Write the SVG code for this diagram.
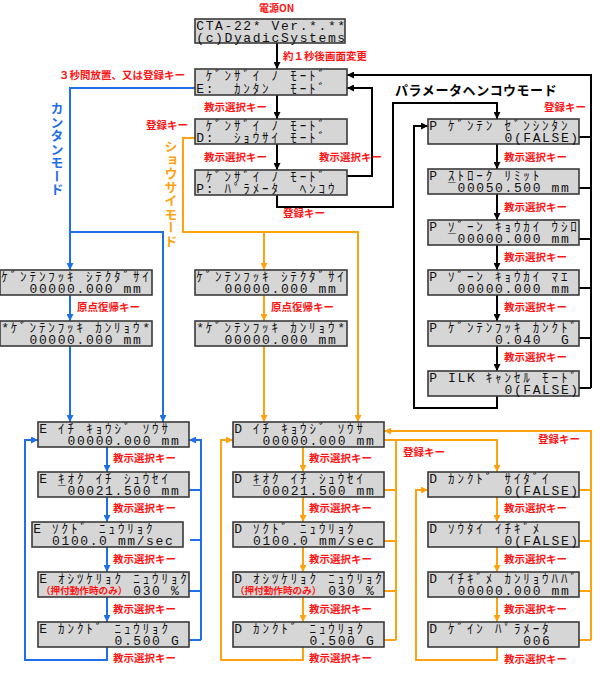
<svg xmlns="http://www.w3.org/2000/svg" width="600" height="673" viewBox="0 0 600 673">
<style>
.box{fill:#d6d6d6;stroke:#3a3a3a;stroke-width:1.6}
.lcd{font-family:"Liberation Mono","Noto Sans CJK JP",monospace;font-size:13px;fill:#111;white-space:pre}
.lbl{font-family:"Noto Sans CJK JP",sans-serif;font-size:10.5px;font-weight:bold;fill:#ff1414}
.sub{font-family:"Noto Sans CJK JP",sans-serif;font-size:9.6px;font-weight:bold;fill:#ff1414}
.vt{font-family:"Noto Sans CJK JP",sans-serif;font-size:13px;font-weight:bold;writing-mode:vertical-rl;letter-spacing:0.5px}
.k{fill:none;stroke:#000;stroke-width:2}
.b{fill:none;stroke:#1f6fe8;stroke-width:2}
.o{fill:none;stroke:#ffa20f;stroke-width:2}
</style>
<defs>
<marker id="ak" viewBox="0 0 8 8" refX="8" refY="4" markerWidth="7" markerHeight="7" markerUnits="userSpaceOnUse" orient="auto"><path d="M0,0 L8,4 L0,8 z" fill="#000"/></marker>
<marker id="ab" viewBox="0 0 8 8" refX="8" refY="4" markerWidth="7" markerHeight="7" markerUnits="userSpaceOnUse" orient="auto"><path d="M0,0 L8,4 L0,8 z" fill="#1f6fe8"/></marker>
<marker id="ao" viewBox="0 0 8 8" refX="8" refY="4" markerWidth="7" markerHeight="7" markerUnits="userSpaceOnUse" orient="auto"><path d="M0,0 L8,4 L0,8 z" fill="#ffa20f"/></marker>
</defs>
<rect width="600" height="673" fill="#fff"/>

<g id="connectors">
<g class="k">
<path d="M277,43 V69" marker-end="url(#ak)"/>
<path d="M277,95 V119" marker-end="url(#ak)"/>
<path d="M277,144 V170" marker-end="url(#ak)"/>
<path d="M347,176 H372 V88 H347" marker-end="url(#ak)"/>
<path d="M277,195 V207 H393 V103 H497 V119" marker-end="url(#ak)"/>
<path d="M591,388 V75 H347" marker-end="url(#ak)"/>
<path d="M579,137 H591 M579,188 H591 M579,239 H591 M579,288 H591 M579,338 H591 M579,388 H591"/>
<path d="M497,144 V169" marker-end="url(#ak)"/>
<path d="M497,194 V220" marker-end="url(#ak)"/>
<path d="M497,245 V270" marker-end="url(#ak)"/>
<path d="M497,295 V321" marker-end="url(#ak)"/>
<path d="M497,346 V371" marker-end="url(#ak)"/>
<path d="M497,396 V408 H414 V126 H428" marker-end="url(#ak)"/>
</g>
<g class="b">
<path d="M195,88 H70 V270" marker-end="url(#ab)"/>
<path d="M70,232 H163 V422" marker-end="url(#ab)"/>
<path d="M70,295 V321" marker-end="url(#ab)"/>
<path d="M70,346 V422" marker-end="url(#ab)"/>
<path d="M107,447 V472" marker-end="url(#ab)"/>
<path d="M107,497 V522" marker-end="url(#ab)"/>
<path d="M107,547 V572" marker-end="url(#ab)"/>
<path d="M107,597 V622" marker-end="url(#ab)"/>
<path d="M107,647 V660 H25 V440 H38" marker-end="url(#ab)"/>
<path d="M201,640 V440 H189" marker-end="url(#ab)"/>
<path d="M189,490 H201 M190,540 H201 M189,591 H201 M189,640 H201"/>
</g>
<g class="o">
<path d="M195,138 H183 V232 H358 V422" marker-end="url(#ao)"/>
<path d="M264,232 V270" marker-end="url(#ao)"/>
<path d="M264,295 V321" marker-end="url(#ao)"/>
<path d="M264,346 V422" marker-end="url(#ao)"/>
<path d="M303,447 V472" marker-end="url(#ao)"/>
<path d="M303,497 V522" marker-end="url(#ao)"/>
<path d="M303,547 V572" marker-end="url(#ao)"/>
<path d="M303,597 V622" marker-end="url(#ao)"/>
<path d="M303,647 V660 H221 V440 H233" marker-end="url(#ao)"/>
<path d="M384,440 H497 V472" marker-end="url(#ao)"/>
<path d="M396,440 V640 M384,490 H396 M384,541 H396 M384,591 H396 M384,640 H396"/>
<path d="M591,640 V431 H384" marker-end="url(#ao)"/>
<path d="M579,490 H591 M579,541 H591 M579,591 H591 M579,640 H591"/>
<path d="M497,497 V522" marker-end="url(#ao)"/>
<path d="M497,547 V572" marker-end="url(#ao)"/>
<path d="M497,597 V622" marker-end="url(#ao)"/>
<path d="M497,647 V660 H416 V490 H428" marker-end="url(#ao)"/>
</g>
</g>

<g id="cta" transform="translate(195,19)"><rect class="box" width="150" height="24"/><text class="lcd" xml:space="preserve"><tspan x="1.3 10.7 20.1 29.5 38.9 48.3 57.7 67.1 76.5 85.9 95.3 104.7 114.1 123.5 132.9 142.3 151.7" y="10.5">CTA-22* Ver.*.**</tspan><tspan x="1.3 10.7 20.1 29.5 38.9 48.3 57.7 67.1 76.5 85.9 95.3 104.7 114.1 123.5 132.9 142.3 151.7" y="22.5">(c)DyadicSystems</tspan></text></g>

<g id="mode-e" transform="translate(195,69)"><rect class="box" width="152" height="26"/><text class="lcd" xml:space="preserve"><tspan x="1.3 10.7 20.1 29.5 38.9 48.3 57.7 67.1 76.5 85.9 95.3 104.7 114.1 123.5 132.9 142.3 151.7" y="11"> ｹﾞﾝｻﾞｲ ﾉ ﾓｰﾄﾞ</tspan><tspan x="1.3 10.7 20.1 29.5 38.9 48.3 57.7 67.1 76.5 85.9 95.3 104.7 114.1 123.5 132.9 142.3 151.7" y="23.5">E:  ｶﾝﾀﾝ  ﾓｰﾄﾞ</tspan></text></g>

<g id="mode-d" transform="translate(195,119)"><rect class="box" width="152" height="25"/><text class="lcd" xml:space="preserve"><tspan x="1.3 10.7 20.1 29.5 38.9 48.3 57.7 67.1 76.5 85.9 95.3 104.7 114.1 123.5 132.9 142.3 151.7" y="10.5"> ｹﾞﾝｻﾞｲ ﾉ ﾓｰﾄﾞ</tspan><tspan x="1.3 10.7 20.1 29.5 38.9 48.3 57.7 67.1 76.5 85.9 95.3 104.7 114.1 123.5 132.9 142.3 151.7" y="22.5">D:  ｼｮｳｻｲ ﾓｰﾄﾞ</tspan></text></g>

<g id="mode-p" transform="translate(195,170)"><rect class="box" width="152" height="25"/><text class="lcd" xml:space="preserve"><tspan x="1.3 10.7 20.1 29.5 38.9 48.3 57.7 67.1 76.5 85.9 95.3 104.7 114.1 123.5 132.9 142.3 151.7" y="10.5"> ｹﾞﾝｻﾞｲ ﾉ ﾓｰﾄﾞ</tspan><tspan x="1.3 10.7 20.1 29.5 38.9 48.3 57.7 67.1 76.5 85.9 95.3 104.7 114.1 123.5 132.9 142.3 151.7" y="22.5">P: ﾊﾟﾗﾒｰﾀ  ﾍﾝｺｳ</tspan></text></g>

<g id="p1" transform="translate(428,119)"><rect class="box" width="151" height="25"/><text class="lcd" xml:space="preserve"><tspan x="1.3 10.7 20.1 29.5 38.9 48.3 57.7 67.1 76.5 85.9 95.3 104.7 114.1 123.5 132.9 142.3 151.7" y="10.5">P ｹﾞﾝﾃﾝ ｾﾞﾝｼﾝﾀﾝ</tspan><tspan x="1.3 10.7 20.1 29.5 38.9 48.3 57.7 67.1 76.5 85.9 95.3 104.7 114.1 123.5 132.9 142.3 151.7" y="22.5">        0(FALSE)</tspan></text></g>
<g id="p2" transform="translate(428,169)"><rect class="box" width="151" height="25"/><text class="lcd" xml:space="preserve"><tspan x="1.3 10.7 20.1 29.5 38.9 48.3 57.7 67.1 76.5 85.9 95.3 104.7 114.1 123.5 132.9 142.3 151.7" y="10.5">P ｽﾄﾛｰｸ ﾘﾐｯﾄ</tspan><tspan x="1.3 10.7 20.1 29.5 38.9 48.3 57.7 67.1 76.5 85.9 95.3 104.7 114.1 123.5 132.9 142.3 151.7" y="22.5">  ¯00050.500 mm</tspan></text></g>
<g id="p3" transform="translate(428,220)"><rect class="box" width="151" height="25"/><text class="lcd" xml:space="preserve"><tspan x="1.3 10.7 20.1 29.5 38.9 48.3 57.7 67.1 76.5 85.9 95.3 104.7 114.1 123.5 132.9 142.3 151.7" y="10.5">P ｿﾞｰﾝ ｷｮｳｶｲ ｳｼﾛ</tspan><tspan x="1.3 10.7 20.1 29.5 38.9 48.3 57.7 67.1 76.5 85.9 95.3 104.7 114.1 123.5 132.9 142.3 151.7" y="22.5">  ¯00000.000 mm</tspan></text></g>
<g id="p4" transform="translate(428,270)"><rect class="box" width="151" height="25"/><text class="lcd" xml:space="preserve"><tspan x="1.3 10.7 20.1 29.5 38.9 48.3 57.7 67.1 76.5 85.9 95.3 104.7 114.1 123.5 132.9 142.3 151.7" y="10.5">P ｿﾞｰﾝ ｷｮｳｶｲ ﾏｴ</tspan><tspan x="1.3 10.7 20.1 29.5 38.9 48.3 57.7 67.1 76.5 85.9 95.3 104.7 114.1 123.5 132.9 142.3 151.7" y="22.5">   00000.000 mm</tspan></text></g>
<g id="p5" transform="translate(428,321)"><rect class="box" width="151" height="25"/><text class="lcd" xml:space="preserve"><tspan x="1.3 10.7 20.1 29.5 38.9 48.3 57.7 67.1 76.5 85.9 95.3 104.7 114.1 123.5 132.9 142.3 151.7" y="10.5">P ｹﾞﾝﾃﾝﾌｯｷ ｶﾝｸﾄﾞ</tspan><tspan x="1.3 10.7 20.1 29.5 38.9 48.3 57.7 67.1 76.5 85.9 95.3 104.7 114.1 123.5 132.9 142.3 151.7" y="22.5">       0.040  G</tspan></text></g>
<g id="p6" transform="translate(428,371)"><rect class="box" width="151" height="25"/><text class="lcd" xml:space="preserve"><tspan x="1.3 10.7 20.1 29.5 38.9 48.3 57.7 67.1 76.5 85.9 95.3 104.7 114.1 123.5 132.9 142.3 151.7" y="10.5">P ILK ｷｬﾝｾﾙ ﾓｰﾄﾞ</tspan><tspan x="1.3 10.7 20.1 29.5 38.9 48.3 57.7 67.1 76.5 85.9 95.3 104.7 114.1 123.5 132.9 142.3 151.7" y="22.5">        0(FALSE)</tspan></text></g>

<g id="e-genten" transform="translate(0,270)"><rect class="box" width="152" height="25"/><text class="lcd" xml:space="preserve"><tspan x="1.3 10.7 20.1 29.5 38.9 48.3 57.7 67.1 76.5 85.9 95.3 104.7 114.1 123.5 132.9 142.3 151.7" y="10.5">ｹﾞﾝﾃﾝﾌｯｷ ｼﾃｸﾀﾞｻｲ</tspan><tspan x="1.3 10.7 20.1 29.5 38.9 48.3 57.7 67.1 76.5 85.9 95.3 104.7 114.1 123.5 132.9 142.3 151.7" y="22.5">   00000.000 mm</tspan></text></g>
<g id="e-kanryo" transform="translate(0,321)"><rect class="box" width="152" height="25"/><text class="lcd" xml:space="preserve"><tspan x="1.3 10.7 20.1 29.5 38.9 48.3 57.7 67.1 76.5 85.9 95.3 104.7 114.1 123.5 132.9 142.3 151.7" y="10.5">*ｹﾞﾝﾃﾝﾌｯｷ ｶﾝﾘｮｳ*</tspan><tspan x="1.3 10.7 20.1 29.5 38.9 48.3 57.7 67.1 76.5 85.9 95.3 104.7 114.1 123.5 132.9 142.3 151.7" y="22.5">   00000.000 mm</tspan></text></g>
<g id="d-genten" transform="translate(195,270)"><rect class="box" width="152" height="25"/><text class="lcd" xml:space="preserve"><tspan x="1.3 10.7 20.1 29.5 38.9 48.3 57.7 67.1 76.5 85.9 95.3 104.7 114.1 123.5 132.9 142.3 151.7" y="10.5">ｹﾞﾝﾃﾝﾌｯｷ ｼﾃｸﾀﾞｻｲ</tspan><tspan x="1.3 10.7 20.1 29.5 38.9 48.3 57.7 67.1 76.5 85.9 95.3 104.7 114.1 123.5 132.9 142.3 151.7" y="22.5">   00000.000 mm</tspan></text></g>
<g id="d-kanryo" transform="translate(195,321)"><rect class="box" width="152" height="25"/><text class="lcd" xml:space="preserve"><tspan x="1.3 10.7 20.1 29.5 38.9 48.3 57.7 67.1 76.5 85.9 95.3 104.7 114.1 123.5 132.9 142.3 151.7" y="10.5">*ｹﾞﾝﾃﾝﾌｯｷ ｶﾝﾘｮｳ*</tspan><tspan x="1.3 10.7 20.1 29.5 38.9 48.3 57.7 67.1 76.5 85.9 95.3 104.7 114.1 123.5 132.9 142.3 151.7" y="22.5">   00000.000 mm</tspan></text></g>

<g id="e1" transform="translate(38,422)"><rect class="box" width="151" height="25"/><text class="lcd" xml:space="preserve"><tspan x="1.3 10.7 20.1 29.5 38.9 48.3 57.7 67.1 76.5 85.9 95.3 104.7 114.1 123.5 132.9 142.3 151.7" y="10.5">E ｲﾁ ｷｮｳｼﾞ ｿｳｻ</tspan><tspan x="1.3 10.7 20.1 29.5 38.9 48.3 57.7 67.1 76.5 85.9 95.3 104.7 114.1 123.5 132.9 142.3 151.7" y="22.5">   00000.000 mm</tspan></text></g>
<g id="e2" transform="translate(38,472)"><rect class="box" width="151" height="25"/><text class="lcd" xml:space="preserve"><tspan x="1.3 10.7 20.1 29.5 38.9 48.3 57.7 67.1 76.5 85.9 95.3 104.7 114.1 123.5 132.9 142.3 151.7" y="10.5">E ｷｵｸ ｲﾁ ｼｭｳｾｲ</tspan><tspan x="1.3 10.7 20.1 29.5 38.9 48.3 57.7 67.1 76.5 85.9 95.3 104.7 114.1 123.5 132.9 142.3 151.7" y="22.5">  ¯00021.500 mm</tspan></text></g>
<g id="e3" transform="translate(32,522)"><rect class="box" width="151" height="25"/><text class="lcd" xml:space="preserve"><tspan x="1.3 10.7 20.1 29.5 38.9 48.3 57.7 67.1 76.5 85.9 95.3 104.7 114.1 123.5 132.9 142.3 151.7" y="10.5">E ｿｸﾄﾞ ﾆｭｳﾘｮｸ</tspan><tspan x="1.3 10.7 20.1 29.5 38.9 48.3 57.7 67.1 76.5 85.9 95.3 104.7 114.1 123.5 132.9 142.3 151.7" y="22.5">  0100.0 mm/sec</tspan></text></g>
<g id="e4" transform="translate(38,572)"><rect class="box" width="151" height="25"/><text class="lcd" xml:space="preserve"><tspan x="1.3 10.7 20.1 29.5 38.9 48.3 57.7 67.1 76.5 85.9 95.3 104.7 114.1 123.5 132.9 142.3 151.7" y="10.5">E ｵｼﾂｹﾘｮｸ ﾆｭｳﾘｮｸ</tspan><tspan class="sub" x="3" y="22">（押付動作時のみ）</tspan><tspan x="95.3 104.7 114.1 123.5 132.9" y="22.5">030 %</tspan></text></g>
<g id="e5" transform="translate(38,622)"><rect class="box" width="151" height="25"/><text class="lcd" xml:space="preserve"><tspan x="1.3 10.7 20.1 29.5 38.9 48.3 57.7 67.1 76.5 85.9 95.3 104.7 114.1 123.5 132.9 142.3 151.7" y="10.5">E ｶﾝｸﾄﾞ ﾆｭｳﾘｮｸ</tspan><tspan x="1.3 10.7 20.1 29.5 38.9 48.3 57.7 67.1 76.5 85.9 95.3 104.7 114.1 123.5 132.9 142.3 151.7" y="22.5">        0.500 G</tspan></text></g>

<g id="d1" transform="translate(233,422)"><rect class="box" width="151" height="25"/><text class="lcd" xml:space="preserve"><tspan x="1.3 10.7 20.1 29.5 38.9 48.3 57.7 67.1 76.5 85.9 95.3 104.7 114.1 123.5 132.9 142.3 151.7" y="10.5">D ｲﾁ ｷｮｳｼﾞ ｿｳｻ</tspan><tspan x="1.3 10.7 20.1 29.5 38.9 48.3 57.7 67.1 76.5 85.9 95.3 104.7 114.1 123.5 132.9 142.3 151.7" y="22.5">   00000.000 mm</tspan></text></g>
<g id="d2" transform="translate(233,472)"><rect class="box" width="151" height="25"/><text class="lcd" xml:space="preserve"><tspan x="1.3 10.7 20.1 29.5 38.9 48.3 57.7 67.1 76.5 85.9 95.3 104.7 114.1 123.5 132.9 142.3 151.7" y="10.5">D ｷｵｸ ｲﾁ ｼｭｳｾｲ</tspan><tspan x="1.3 10.7 20.1 29.5 38.9 48.3 57.7 67.1 76.5 85.9 95.3 104.7 114.1 123.5 132.9 142.3 151.7" y="22.5">  ¯00021.500 mm</tspan></text></g>
<g id="d3" transform="translate(233,522)"><rect class="box" width="151" height="25"/><text class="lcd" xml:space="preserve"><tspan x="1.3 10.7 20.1 29.5 38.9 48.3 57.7 67.1 76.5 85.9 95.3 104.7 114.1 123.5 132.9 142.3 151.7" y="10.5">D ｿｸﾄﾞ ﾆｭｳﾘｮｸ</tspan><tspan x="1.3 10.7 20.1 29.5 38.9 48.3 57.7 67.1 76.5 85.9 95.3 104.7 114.1 123.5 132.9 142.3 151.7" y="22.5">  0100.0 mm/sec</tspan></text></g>
<g id="d4" transform="translate(233,572)"><rect class="box" width="151" height="25"/><text class="lcd" xml:space="preserve"><tspan x="1.3 10.7 20.1 29.5 38.9 48.3 57.7 67.1 76.5 85.9 95.3 104.7 114.1 123.5 132.9 142.3 151.7" y="10.5">D ｵｼﾂｹﾘｮｸ ﾆｭｳﾘｮｸ</tspan><tspan class="sub" x="2" y="22">（押付動作時のみ）</tspan><tspan x="95.3 104.7 114.1 123.5 132.9" y="22.5">030 %</tspan></text></g>
<g id="d5" transform="translate(233,622)"><rect class="box" width="151" height="25"/><text class="lcd" xml:space="preserve"><tspan x="1.3 10.7 20.1 29.5 38.9 48.3 57.7 67.1 76.5 85.9 95.3 104.7 114.1 123.5 132.9 142.3 151.7" y="10.5">D ｶﾝｸﾄﾞ ﾆｭｳﾘｮｸ</tspan><tspan x="1.3 10.7 20.1 29.5 38.9 48.3 57.7 67.1 76.5 85.9 95.3 104.7 114.1 123.5 132.9 142.3 151.7" y="22.5">        0.500 G</tspan></text></g>

<g id="dr1" transform="translate(428,472)"><rect class="box" width="151" height="25"/><text class="lcd" xml:space="preserve"><tspan x="1.3 10.7 20.1 29.5 38.9 48.3 57.7 67.1 76.5 85.9 95.3 104.7 114.1 123.5 132.9 142.3 151.7" y="10.5">D ｶﾝｸﾄﾞ ｻｲﾀﾞｲ</tspan><tspan x="1.3 10.7 20.1 29.5 38.9 48.3 57.7 67.1 76.5 85.9 95.3 104.7 114.1 123.5 132.9 142.3 151.7" y="22.5">        0(FALSE)</tspan></text></g>
<g id="dr2" transform="translate(428,522)"><rect class="box" width="151" height="25"/><text class="lcd" xml:space="preserve"><tspan x="1.3 10.7 20.1 29.5 38.9 48.3 57.7 67.1 76.5 85.9 95.3 104.7 114.1 123.5 132.9 142.3 151.7" y="10.5">D ｿｳﾀｲ ｲﾁｷﾞﾒ</tspan><tspan x="1.3 10.7 20.1 29.5 38.9 48.3 57.7 67.1 76.5 85.9 95.3 104.7 114.1 123.5 132.9 142.3 151.7" y="22.5">        0(FALSE)</tspan></text></g>
<g id="dr3" transform="translate(428,572)"><rect class="box" width="151" height="25"/><text class="lcd" xml:space="preserve"><tspan x="1.3 10.7 20.1 29.5 38.9 48.3 57.7 67.1 76.5 85.9 95.3 104.7 114.1 123.5 132.9 142.3 151.7" y="10.5">D ｲﾁｷﾞﾒ ｶﾝﾘｮｳﾊﾊﾞ</tspan><tspan x="1.3 10.7 20.1 29.5 38.9 48.3 57.7 67.1 76.5 85.9 95.3 104.7 114.1 123.5 132.9 142.3 151.7" y="22.5">   00000.000 mm</tspan></text></g>
<g id="dr4" transform="translate(428,622)"><rect class="box" width="151" height="25"/><text class="lcd" xml:space="preserve"><tspan x="1.3 10.7 20.1 29.5 38.9 48.3 57.7 67.1 76.5 85.9 95.3 104.7 114.1 123.5 132.9 142.3 151.7" y="10.5">D ｹﾞｲﾝ ﾊﾟﾗﾒｰﾀ</tspan><tspan x="1.3 10.7 20.1 29.5 38.9 48.3 57.7 67.1 76.5 85.9 95.3 104.7 114.1 123.5 132.9 142.3 151.7" y="22.5">          006</tspan></text></g>

<g id="labels">
<text class="lbl" x="259" y="11.5" style="font-size:10px">電源ON</text>
<text class="lbl" x="283" y="60">約１秒後画面変更</text>
<text class="lbl" x="59" y="79">３秒間放置、又は登録キー</text>
<text class="lbl" x="204" y="111">教示選択キー</text>
<text class="lbl" x="146" y="129">登録キー</text>
<text class="lbl" x="204" y="161">教示選択キー</text>
<text class="lbl" x="319" y="161">教示選択キー</text>
<text class="lbl" x="283" y="217">登録キー</text>
<text class="lbl" x="544" y="111">登録キー</text>
<text class="lbl" x="504" y="161">教示選択キー</text>
<text class="lbl" x="504" y="211">教示選択キー</text>
<text class="lbl" x="504" y="261">教示選択キー</text>
<text class="lbl" x="504" y="311">教示選択キー</text>
<text class="lbl" x="504" y="361">教示選択キー</text>
<text class="lbl" x="77" y="311">原点復帰キー</text>
<text class="lbl" x="271" y="311">原点復帰キー</text>
<text class="lbl" x="113" y="462">教示選択キー</text>
<text class="lbl" x="113" y="512">教示選択キー</text>
<text class="lbl" x="113" y="563">教示選択キー</text>
<text class="lbl" x="113" y="613">教示選択キー</text>
<text class="lbl" x="113" y="662">教示選択キー</text>
<text class="lbl" x="309" y="462">教示選択キー</text>
<text class="lbl" x="309" y="512">教示選択キー</text>
<text class="lbl" x="309" y="563">教示選択キー</text>
<text class="lbl" x="309" y="613">教示選択キー</text>
<text class="lbl" x="309" y="662">教示選択キー</text>
<text class="lbl" x="504" y="512">教示選択キー</text>
<text class="lbl" x="504" y="563">教示選択キー</text>
<text class="lbl" x="504" y="613">教示選択キー</text>
<text class="lbl" x="504" y="663">教示選択キー</text>
<text class="lbl" x="538" y="443">登録キー</text>
<text class="lbl" x="403" y="456">登録キー</text>
<text x="395" y="95" style="font-family:'Noto Sans CJK JP',sans-serif;font-size:13px;font-weight:bold;letter-spacing:0.6px;fill:#000">パラメータヘンコウモード</text>
<text class="vt" x="57" y="102" fill="#1f6fe8">カンタンモード</text>
<text class="vt" x="171" y="140" fill="#ffa20f">ショウサイモード</text>
</g>
</svg>
